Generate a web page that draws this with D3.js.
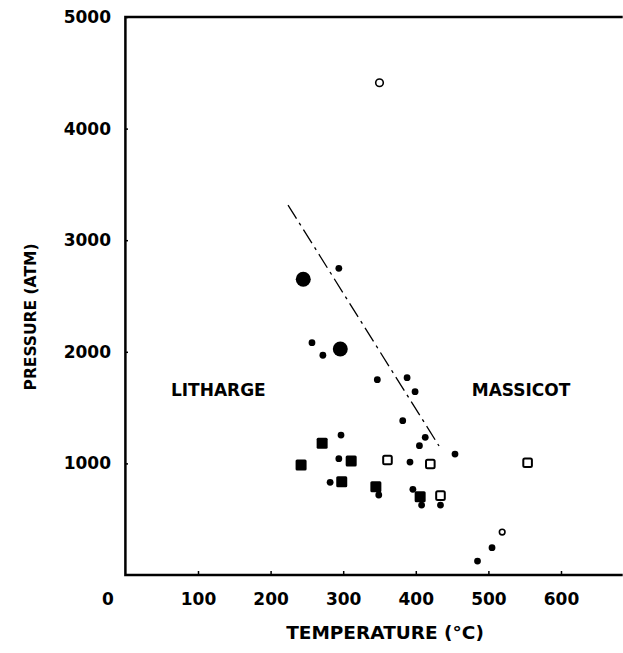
<!DOCTYPE html>
<html>
<head>
<meta charset="utf-8">
<script src="https://cdnjs.cloudflare.com/ajax/libs/d3/7.8.5/d3.min.js"></script>
<style>
  body { margin: 0; background: #fff; }
  text { font-family: "DejaVu Sans", sans-serif; font-weight: bold; fill: #000; }
</style>
</head>
<body>
<script>
//==============================================================================
// data (temperature in C, pressure in atm)

var xTicks = [100, 200, 300, 400, 500, 600];
var yTicks = [1000, 2000, 3000, 4000, 5000];

var smallDots = [
    [294, 2748], [257, 2082], [272, 1969], [347, 1750], [388, 1768],
    [399, 1643], [382, 1383], [413, 1234], [405, 1159], [454, 1084],
    [297, 1254], [294, 1042], [392, 1012], [282, 830], [349, 717],
    [396, 768], [408, 627], [434, 627], [505, 245], [485, 125]
];
var bigDots = [[245, 2650], [296, 2025]];
var openDots = [[519, 385], [350, 4411]];
var filledSquares = [[242, 986], [271, 1180], [311, 1021], [298, 836], [345, 791], [406, 702]];
var openSquares = [[361, 1030], [420, 995], [434, 711], [554, 1006]];
var boundary = [[224, 3315], [432, 1156]];

var regionLabels = [
    {name: "LITHARGE", t: 128, p: 1658},
    {name: "MASSICOT", t: 545, p: 1658}
];

//==============================================================================

var totalWidth = 623;
var totalHeight = 653;

var svg = d3.select('body').append('svg')
    .attr("width", totalWidth)
    .attr("height", totalHeight);

var x = d3.scaleLinear().domain([0, 685]).range([125.4, 622.7]);
var y = d3.scaleLinear().domain([0, 5000]).range([575, 17]);

// axes
var xAxis = svg.append("g")
    .attr("transform", "translate(0," + 574 + ")")
    .call(d3.axisBottom(x).tickValues(xTicks).tickSize(-3).tickPadding(19).tickFormat(d3.format("d")));
xAxis.select(".domain").remove();
xAxis.selectAll("line").attr("stroke", "#000").attr("stroke-width", 1.5);
xAxis.selectAll("text").style("font-size", "17px").style("font-family", "DejaVu Sans").style("font-weight", "bold");

var yAxis = svg.append("g")
    .attr("transform", "translate(" + 125 + ",0)")
    .call(d3.axisLeft(y).tickValues(yTicks).tickSize(-3).tickPadding(14).tickFormat(d3.format("d")));
yAxis.select(".domain").remove();
yAxis.selectAll("line").attr("stroke", "#000").attr("stroke-width", 1.5);
yAxis.selectAll("text").style("font-size", "17px").style("font-family", "DejaVu Sans").style("font-weight", "bold");

// frame: left, bottom, top
svg.append("path")
    .attr("d", "M" + x.range()[1] + "," + y(5000) + "H" + x(0) + "V" + y(0) + "H" + x.range()[1])
    .attr("fill", "none")
    .attr("stroke", "#000")
    .attr("stroke-width", 2.5);

// shared origin label
svg.append("text")
    .attr("x", 108).attr("y", 605)
    .attr("text-anchor", "middle")
    .style("font-size", "17px")
    .text("0");

// axis titles
svg.append("text")
    .attr("x", 385).attr("y", 639)
    .attr("text-anchor", "middle")
    .style("font-size", "18.5px")
    .text("TEMPERATURE (°C)");

svg.append("text")
    .attr("transform", "translate(36,317) rotate(-90)")
    .attr("text-anchor", "middle")
    .style("font-size", "15.5px")
    .text("PRESSURE (ATM)");

// region labels
svg.selectAll(".region").data(regionLabels).enter().append("text")
    .attr("class", "region")
    .attr("x", function(d) { return x(d.t); })
    .attr("y", function(d) { return y(d.p); })
    .attr("dy", "0.36em")
    .attr("text-anchor", "middle")
    .style("font-size", "17px")
    .text(function(d) { return d.name; });

// phase boundary
svg.append("line")
    .attr("x1", x(boundary[0][0])).attr("y1", y(boundary[0][1]))
    .attr("x2", x(boundary[1][0])).attr("y2", y(boundary[1][1]))
    .attr("stroke", "#000")
    .attr("stroke-width", 1.3)
    .attr("stroke-dasharray", "16,5,3,5");

// points
svg.selectAll(".small").data(smallDots).enter().append("circle")
    .attr("cx", function(d) { return x(d[0]); })
    .attr("cy", function(d) { return y(d[1]); })
    .attr("r", 3.4)
    .attr("fill", "#000");

svg.selectAll(".big").data(bigDots).enter().append("circle")
    .attr("cx", function(d) { return x(d[0]); })
    .attr("cy", function(d) { return y(d[1]); })
    .attr("r", 7.5)
    .attr("fill", "#000");

svg.selectAll(".open").data(openDots).enter().append("circle")
    .attr("cx", function(d) { return x(d[0]); })
    .attr("cy", function(d) { return y(d[1]); })
    .attr("r", function(d, i) { return i === 1 ? 3.8 : 2.8; })
    .attr("fill", "none")
    .attr("stroke", "#000")
    .attr("stroke-width", 1.6);

svg.selectAll(".fsq").data(filledSquares).enter().append("rect")
    .attr("x", function(d) { return x(d[0]) - 5.5; })
    .attr("y", function(d) { return y(d[1]) - 5.5; })
    .attr("width", 11).attr("height", 11)
    .attr("rx", 1.5)
    .attr("fill", "#000");

svg.selectAll(".osq").data(openSquares).enter().append("rect")
    .attr("x", function(d) { return x(d[0]) - 4.3; })
    .attr("y", function(d) { return y(d[1]) - 4.3; })
    .attr("width", 8.6).attr("height", 8.6)
    .attr("rx", 1.5)
    .attr("fill", "#fff")
    .attr("stroke", "#000")
    .attr("stroke-width", 2);
</script>
</body>
</html>
